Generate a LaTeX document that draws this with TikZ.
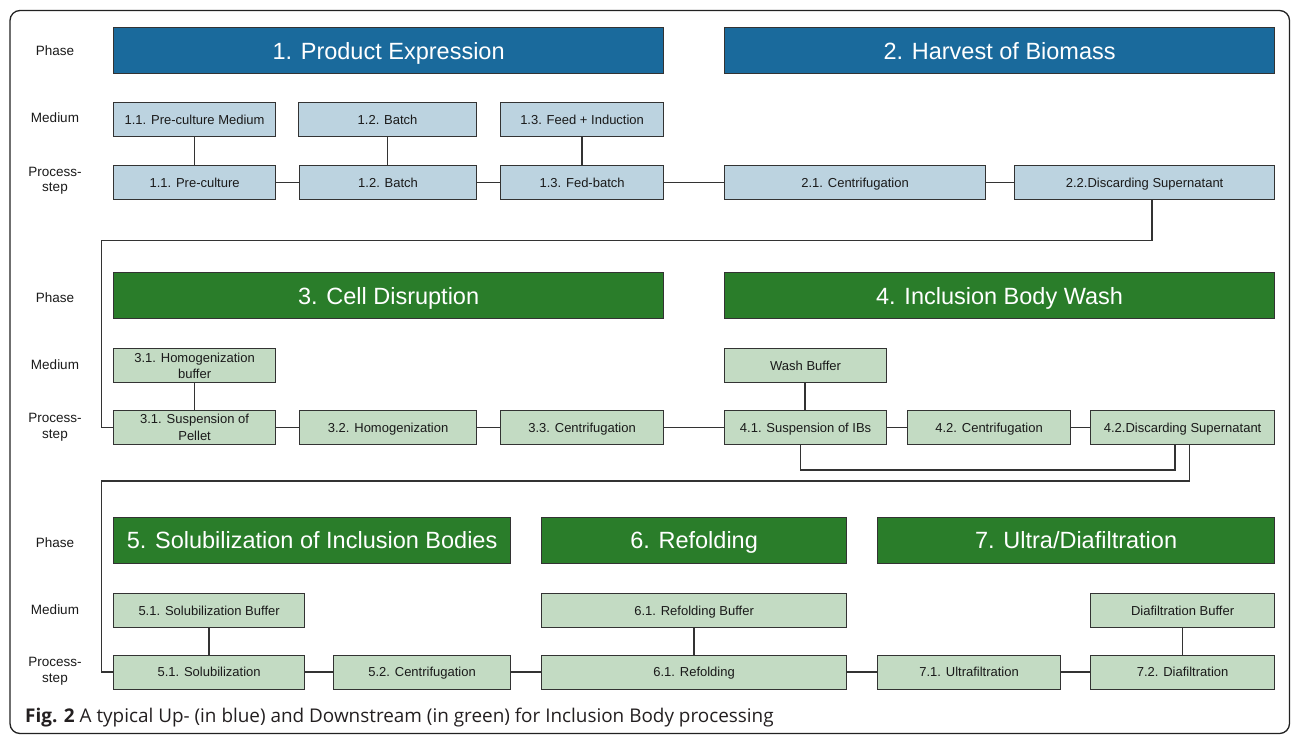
\documentclass[tikz,border=0pt]{standalone}
\usepackage{fontspec}
\setmainfont{Liberation Sans}
\newfontfamily\capfont{Open Sans}
\definecolor{pblue}{HTML}{1A6A9C}
\definecolor{lblue}{HTML}{BCD3E0}
\definecolor{pgreen}{HTML}{2A7D2A}
\definecolor{lgreen}{HTML}{C3DBC3}
\definecolor{edge}{HTML}{333333}
\definecolor{txt}{HTML}{1A1A1A}
\definecolor{frame}{HTML}{222222}
\definecolor{captxt}{HTML}{231F20}
\begin{document}
\begin{tikzpicture}[x=1pt,y=-1pt,
  lbl/.style={font=\fontsize{13.5}{15.5}\selectfont, text=txt, align=center, inner sep=0pt},
  bxbase/.style={draw=edge, line width=1.2pt, inner sep=0pt, font=\fontsize{13}{16.5}\selectfont, text=txt, align=center, anchor=north west, minimum height=33.5pt},
  bx/.style={bxbase, text height=11pt, text depth=1.6pt},
  ub/.style={bx, fill=lblue},
  db/.style={bx, fill=lgreen},
  dbtwo/.style={bxbase, fill=lgreen},
  ph/.style={draw=edge, line width=1.2pt, inner sep=0pt, anchor=north west, minimum height=46pt, text=white, font=\fontsize{23.5}{28}\selectfont, text height=18pt, text depth=1.2pt},
  phb/.style={ph, fill=pblue},
  phg/.style={ph, fill=pgreen},
  cn/.style={draw=edge, line width=1.5pt}]
\useasboundingbox (0,0) rectangle (1292,734);
\draw[line width=1.3pt, draw=frame, rounded corners=10pt] (10,10.5) rectangle (1289.5,733.5);

% row labels
\node[lbl] (la1) at (55,51) {Phase};
\node[lbl] (lb1) at (55,118) {Medium};
\node[lbl] (lc1) at (55,181) {Process-\\step};
\node[lbl] (la2) at (55,298) {Phase};
\node[lbl] (lb2) at (55,365) {Medium};
\node[lbl] (lc2) at (55,427) {Process-\\step};
\node[lbl] (la3) at (55,543) {Phase};
\node[lbl] (lb3) at (55,610) {Medium};
\node[lbl] (lc3) at (55,671) {Process-\\step};

% row 1
\node[phb, minimum width=550pt] (P1) at (113,27) {1. Product Expression};
\node[phb, minimum width=550pt] (P2) at (724,27) {2. Harvest of Biomass};
\node[ub, minimum width=162pt] (m11) at (113,102) {1.1. Pre-culture Medium};
\node[ub, minimum width=178pt] (m12) at (298,102) {1.2. Batch};
\node[ub, minimum width=163pt] (m13) at (500,102) {1.3. Feed + Induction};
\node[ub, minimum width=162pt] (s11) at (113,165) {1.1. Pre-culture};
\node[ub, minimum width=177pt] (s12) at (299,165) {1.2. Batch};
\node[ub, minimum width=163pt] (s13) at (500,165) {1.3. Fed-batch};
\node[ub, minimum width=261pt] (s21) at (724,165) {2.1. Centrifugation};
\node[ub, minimum width=260pt] (s22) at (1014,165) {2.2.Discarding Supernatant};

\draw[cn] (m11.south) -- (m11.south |- s11.north);
\draw[cn] (m12.south) -- (m12.south |- s12.north);
\draw[cn] (m13.south) -- (m13.south |- s13.north);
\draw[cn] (s11) -- (s12);
\draw[cn] (s12) -- (s13);
\draw[cn] (s13) -- (s21);
\draw[cn] (s21) -- (s22);

% row 2
\node[phg, minimum width=550pt] (P3) at (113,272) {3. Cell Disruption};
\node[phg, minimum width=550pt] (P4) at (724,272) {4. Inclusion Body Wash};
\node[dbtwo, minimum width=162pt, minimum height=34pt] (m31) at (113,348) {3.1. Homogenization\\buffer};
\node[db, minimum width=162pt, minimum height=34pt] (m41) at (724,348) {Wash Buffer};
\node[dbtwo, minimum width=162pt] (s31) at (113,410) {3.1. Suspension of\\Pellet};
\node[db, minimum width=177pt] (s32) at (299,410) {3.2. Homogenization};
\node[db, minimum width=163pt] (s33) at (500,410) {3.3. Centrifugation};
\node[db, minimum width=162pt] (s41) at (724,410) {4.1. Suspension of IBs};
\node[db, minimum width=163pt] (s42) at (907,410) {4.2. Centrifugation};
\node[db, minimum width=184pt] (s43) at (1090,410) {4.2.Discarding Supernatant};

\coordinate (c1) at (1152,240.5);
\coordinate (c2) at (101.5,240.5);
\draw[cn] (s22.south -| c1) -- (c1) -- (c2) |- (s31.west);

\draw[cn] (m31.south) -- (m31.south |- s31.north);
\coordinate (w1) at (805,382);
\draw[cn] (m41.south -| w1) -- (s41.north -| w1);
\draw[cn] (s31) -- (s32);
\draw[cn] (s32) -- (s33);
\draw[cn] (s33) -- (s41);
\draw[cn] (s41) -- (s42);
\draw[cn] (s42) -- (s43);

\coordinate (l1) at (800.5,470);
\coordinate (l2) at (1175,470);
\draw[cn] (s41.south -| l1) -- (l1) -- (l2) -- (s43.south -| l2);

\coordinate (o1) at (1189.5,481);
\coordinate (o2) at (101.5,481);

% row 3
\node[phg, minimum width=397pt, minimum height=45.5pt] (P5) at (113,517) {5. Solubilization of Inclusion Bodies};
\node[phg, minimum width=305pt, minimum height=45.5pt] (P6) at (541,517) {6. Refolding};
\node[phg, minimum width=397pt, minimum height=45.5pt] (P7) at (877,517) {7. Ultra/Diafiltration};
\node[db, minimum width=191pt, minimum height=34pt] (m51) at (113,593) {5.1. Solubilization Buffer};
\node[db, minimum width=305pt, minimum height=34pt] (m61) at (541,593) {6.1. Refolding Buffer};
\node[db, minimum width=184pt, minimum height=34pt] (m72) at (1090,593) {Diafiltration Buffer};
\node[db, minimum width=191pt, minimum height=34pt] (s51) at (113,654.5) {5.1. Solubilization};
\node[db, minimum width=177pt, minimum height=34pt] (s52) at (333,654.5) {5.2. Centrifugation};
\node[db, minimum width=305pt, minimum height=34pt] (s61) at (541,654.5) {6.1. Refolding};
\node[db, minimum width=183pt, minimum height=34pt] (s71) at (877,654.5) {7.1. Ultrafiltration};
\node[db, minimum width=184pt, minimum height=34pt] (s72) at (1090,654.5) {7.2. Diafiltration};

\draw[cn] (s43.south -| o1) -- (o1) -- (o2) |- (s51.west);
\draw[cn] (m51.south) -- (m51.south |- s51.north);
\draw[cn] (m61.south) -- (m61.south |- s61.north);
\draw[cn] (m72.south) -- (m72.south |- s72.north);
\draw[cn] (s51) -- (s52);
\draw[cn] (s52) -- (s61);
\draw[cn] (s61) -- (s71);
\draw[cn] (s71) -- (s72);

% caption
\node[anchor=base west, inner sep=0pt, font={\capfont\fontsize{18.9}{22}\selectfont}, text=captxt] (cap) at (25,722) {\textbf{Fig. 2} A typical Up- (in blue) and Downstream (in green) for Inclusion Body processing};
\end{tikzpicture}
\end{document}
